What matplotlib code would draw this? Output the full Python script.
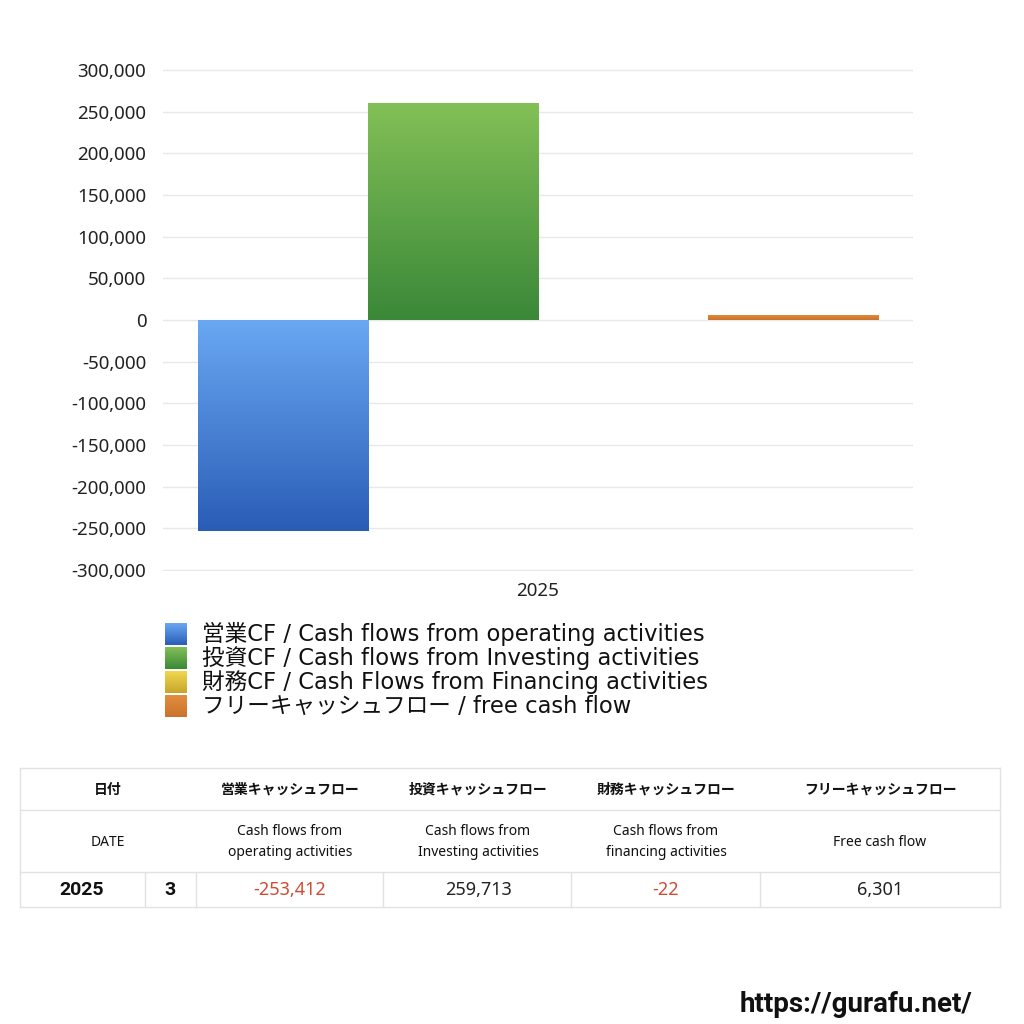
import matplotlib.pyplot as plt
import numpy as np
from matplotlib.ticker import FuncFormatter

plt.rcParams['font.family'] = ['Noto Sans', 'Noto Sans CJK JP', 'DejaVu Sans']
BOLD = ['Roboto', 'Noto Sans CJK JP', 'DejaVu Sans']
WIDE = ['DejaVu Sans', 'Noto Sans CJK JP']

# データ
years = ['2025']
months = ['3']
series_labels = [
    '営業CF / Cash flows from operating activities',
    '投資CF / Cash flows from Investing activities',
    '財務CF / Cash Flows from Financing activities',
    'フリーキャッシュフロー / free cash flow',
]
operating_cf = [-253412]
investing_cf = [259713]
financing_cf = [-22]
free_cf = [6301]

table_head_jp = ['日付', '営業キャッシュフロー', '投資キャッシュフロー', '財務キャッシュフロー', 'フリーキャッシュフロー']
table_head_en = ['DATE', 'Cash flows from\noperating activities', 'Cash flows from\nInvesting activities',
                 'Cash flows from\nfinancing activities', 'Free cash flow']

# グラデーション (上, 下)
grads = [('#6aa8f3', '#2a5db6'), ('#83c057', '#3a8838'), ('#f0d850', '#c8a52c'), ('#e28e3e', '#cc722c')]


def grad_img(top, bot):
    c1 = np.array(plt.matplotlib.colors.to_rgb(top))
    c2 = np.array(plt.matplotlib.colors.to_rgb(bot))
    t = np.linspace(0, 1, 256)[:, None]
    return (c1[None, :] * (1 - t) + c2[None, :] * t)[:, None, :]


fig = plt.figure(figsize=(10.24, 10.24), dpi=100)

ax = fig.add_axes([163 / 1024, 1 - 571 / 1024, 750 / 1024, 502 / 1024])
ax.set_zorder(2)

all_series = [operating_cf, investing_cf, financing_cf, free_cf]
w = 0.227
x = np.arange(len(years))
for i, vals in enumerate(all_series):
    off = (i - 1.5) * w
    bars = ax.bar(x + off, vals, width=w, facecolor='none', edgecolor='none', zorder=3)
    for b in bars:
        x0, y0 = b.get_x(), b.get_y()
        x1, y1 = x0 + b.get_width(), y0 + b.get_height()
        im = ax.imshow(grad_img(*grads[i]), extent=[x0, x1, min(y0, y1), max(y0, y1)],
                       origin='upper', aspect='auto', zorder=3)
        im.set_clip_path(b)

ax.set_xlim(-0.5, 0.5)
ax.set_ylim(-301000, 301000)
ax.set_yticks(np.arange(-300000, 300001, 50000))
ax.yaxis.set_major_formatter(FuncFormatter(lambda v, p: f'{int(v):,}'))
ax.set_xticks(x)
ax.set_xticklabels(years)
ax.grid(axis='y', color='#e8e8e8', linewidth=1, zorder=0)
ax.set_axisbelow(True)
for s in ax.spines.values():
    s.set_visible(False)
ax.tick_params(length=0, labelsize=13.5, colors='#222222', pad=12)
ax.tick_params(axis='x', pad=8)

# 凡例と表 (ピクセル座標)
tax = fig.add_axes([0, 0, 1, 1])
tax.axis('off')
tax.set_zorder(1)

for i, lab in enumerate(series_labels):
    yc = 634 + 24 * i
    tax.imshow(grad_img(*grads[i]), extent=[165, 187, yc + 11, yc - 11], aspect='auto', zorder=2)
    tax.text(202, yc, lab, ha='left', va='center', fontsize=16.3, color='#111111', family=WIDE)

lc = '#e2e2e2'
left, right = 20, 1000
rows = [768, 810, 872, 907]
for yy in rows:
    tax.plot([left, right], [yy, yy], color=lc, lw=1)
tax.plot([left, left], [rows[0], rows[-1]], color=lc, lw=1)
tax.plot([right, right], [rows[0], rows[-1]], color=lc, lw=1)
for xx in [145, 196, 383, 571, 760]:
    tax.plot([xx, xx], [rows[2], rows[3]], color=lc, lw=1)

centers = [108, 290, 478, 666, 880]
for cx, t in zip(centers, table_head_jp):
    tax.text(cx, 790, t, ha='center', va='center', fontsize=10, fontweight='bold', color='#111111',
             family=BOLD)
for cx, t in zip(centers, table_head_en):
    tax.text(cx, 842, t, ha='center', va='center', fontsize=10, color='#111111', linespacing=1.5)

row_vals = [operating_cf[0], investing_cf[0], financing_cf[0], free_cf[0]]
tax.text(82, 890, years[0], ha='center', va='center', fontsize=14, fontweight='bold', color='#111111',
         family=BOLD)
tax.text(170, 890, months[0], ha='center', va='center', fontsize=14, fontweight='bold', color='#111111',
         family=BOLD)
for cx, v in zip(centers[1:], row_vals):
    tax.text(cx, 890, f'{v:,}', ha='center', va='center', fontsize=13,
             color='#d04a35' if v < 0 else '#222222')

tax.text(972, 1004, 'https://gurafu.net/', ha='right', va='center', fontsize=20,
         fontweight='bold', color='#111111', family=BOLD)

tax.set_xlim(0, 1024)
tax.set_ylim(1024, 0)

fig.savefig('out.png', dpi=100, facecolor='white')
